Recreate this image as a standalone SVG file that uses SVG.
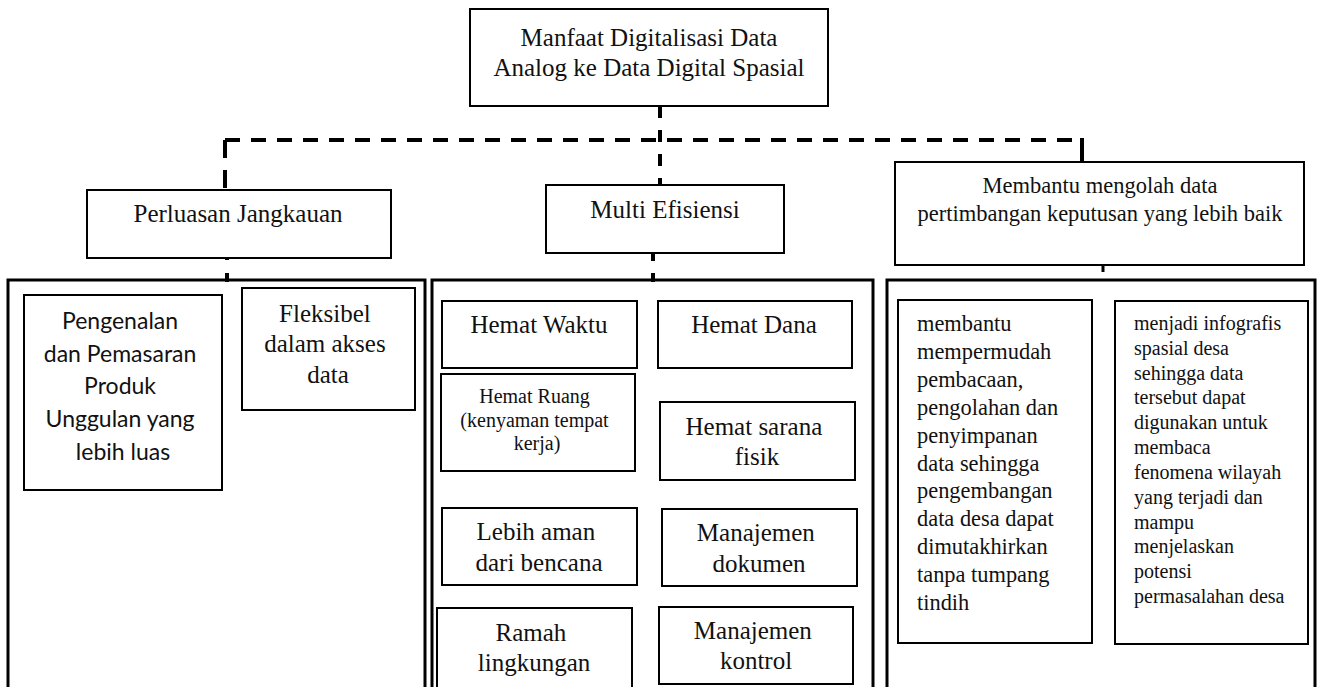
<svg xmlns="http://www.w3.org/2000/svg" width="1317" height="687" viewBox="0 0 1317 687">
<style>
  .bg { fill: #ffffff; }
  .box { fill: #ffffff; stroke: #000000; stroke-width: 2; }
  .panel { fill: #ffffff; stroke: #000000; stroke-width: 3; }
  .dash { fill: none; stroke: #000000; stroke-width: 4; stroke-dasharray: 15 11; }
  .solid { fill: none; stroke: #000000; stroke-width: 3; }
  .serif { font-family: "Liberation Serif", "Times New Roman", serif; fill: #111111; }
  .sans { font-family: Lato, "Open Sans", sans-serif; fill: #111111; }
  .c { text-anchor: middle; }
</style>
<rect class="bg" x="0" y="0" width="1317" height="687"/>

<g id="panels">
  <rect id="panel-left" class="panel" x="8" y="280" width="417" height="430"/>
  <rect id="panel-mid" class="panel" x="432" y="280" width="441" height="430"/>
  <rect id="panel-right" class="panel" x="887" y="280" width="428" height="430"/>
</g>

<g id="connectors">
  <path class="dash" d="M660,106 V184" style="stroke-dasharray: 12 12"/>
  <path class="dash" d="M225,140 H1082"/>
  <path class="dash" d="M225,140 V189" style="stroke-dasharray: 18 12"/>
  <path class="solid" d="M1082,138 V162" style="stroke-width:4"/>
  <path class="dash" d="M227,247 V282" style="stroke-dasharray: 13 13"/>
  <path class="dash" d="M653,248 V282" style="stroke-dasharray: 13 12"/>
  <path class="solid" d="M1103,258 V272"/>
</g>

<g id="root">
  <rect class="box" x="470" y="9" width="358" height="97"/>
  <text class="serif c" x="649" y="46" font-size="25">Manfaat Digitalisasi Data</text>
  <text class="serif c" x="649" y="76" font-size="25">Analog ke Data Digital Spasial</text>
</g>

<g id="perluasan">
  <rect class="box" x="87" y="190" width="304" height="68"/>
  <text class="serif c" x="238" y="222" font-size="25">Perluasan Jangkauan</text>
</g>

<g id="multi">
  <rect class="box" x="546" y="185" width="238" height="68"/>
  <text class="serif c" x="665" y="218" font-size="25">Multi Efisiensi</text>
</g>

<g id="membantu-top">
  <rect class="box" x="895" y="162" width="409" height="103"/>
  <text class="serif c" x="1100" y="193" font-size="22.5">Membantu mengolah data</text>
  <text class="serif c" x="1100" y="221" font-size="22.5">pertimbangan keputusan yang lebih baik</text>
</g>

<g id="pengenalan">
  <rect class="box" x="24" y="295" width="198" height="195"/>
  <text class="sans c" font-size="23" x="123">
    <tspan x="123" y="329">Pengenalan</tspan>
    <tspan x="123" y="362">dan Pemasaran</tspan>
    <tspan x="123" y="394">Produk</tspan>
    <tspan x="123" y="427">Unggulan yang</tspan>
    <tspan x="123" y="460">lebih luas</tspan>
  </text>
</g>

<g id="fleksibel">
  <rect class="box" x="242" y="288" width="173" height="122"/>
  <text class="serif c" font-size="25">
    <tspan x="328" y="322">Fleksibel</tspan>
    <tspan x="328" y="352">dalam akses</tspan>
    <tspan x="328" y="383">data</tspan>
  </text>
</g>

<g id="hemat-waktu">
  <rect class="box" x="442" y="301" width="195" height="67"/>
  <text class="serif c" x="539" y="333" font-size="25">Hemat Waktu</text>
</g>

<g id="hemat-dana">
  <rect class="box" x="658" y="301" width="194" height="67"/>
  <text class="serif c" x="754" y="333" font-size="25">Hemat Dana</text>
</g>

<g id="hemat-ruang">
  <rect class="box" x="441" y="374" width="194" height="97"/>
  <text class="serif c" font-size="20">
    <tspan x="537" y="403">Hemat Ruang</tspan>
    <tspan x="537" y="427">(kenyaman tempat</tspan>
    <tspan x="537" y="450">kerja)</tspan>
  </text>
</g>

<g id="hemat-sarana">
  <rect class="box" x="660" y="402" width="195" height="78"/>
  <text class="serif c" font-size="25">
    <tspan x="757" y="435">Hemat sarana</tspan>
    <tspan x="757" y="465">fisik</tspan>
  </text>
</g>

<g id="lebih-aman">
  <rect class="box" x="442" y="508" width="195" height="77"/>
  <text class="serif c" font-size="25">
    <tspan x="539" y="540">Lebih aman</tspan>
    <tspan x="539" y="571">dari bencana</tspan>
  </text>
</g>

<g id="manajemen-dokumen">
  <rect class="box" x="662" y="509" width="195" height="77"/>
  <text class="serif c" font-size="25">
    <tspan x="759" y="541">Manajemen</tspan>
    <tspan x="759" y="572">dokumen</tspan>
  </text>
</g>

<g id="ramah">
  <rect class="box" x="437" y="608" width="195" height="100"/>
  <text class="serif c" font-size="25">
    <tspan x="534" y="641">Ramah</tspan>
    <tspan x="534" y="671">lingkungan</tspan>
  </text>
</g>

<g id="manajemen-kontrol">
  <rect class="box" x="659" y="607" width="194" height="77"/>
  <text class="serif c" font-size="25">
    <tspan x="756" y="639">Manajemen</tspan>
    <tspan x="756" y="669">kontrol</tspan>
  </text>
</g>

<g id="membantu-detail">
  <rect class="box" x="898" y="300" width="194" height="343"/>
  <text class="serif" font-size="22.4">
    <tspan x="917" y="331">membantu</tspan>
    <tspan x="917" y="359">mempermudah</tspan>
    <tspan x="917" y="387">pembacaan,</tspan>
    <tspan x="917" y="415">pengolahan dan</tspan>
    <tspan x="917" y="443">penyimpanan</tspan>
    <tspan x="917" y="471">data sehingga</tspan>
    <tspan x="917" y="498">pengembangan</tspan>
    <tspan x="917" y="526">data desa dapat</tspan>
    <tspan x="917" y="554">dimutakhirkan</tspan>
    <tspan x="917" y="582">tanpa tumpang</tspan>
    <tspan x="917" y="610">tindih</tspan>
  </text>
</g>

<g id="infografis">
  <rect class="box" x="1115" y="301" width="193" height="343"/>
  <text class="serif" font-size="20">
    <tspan x="1134" y="330">menjadi infografis</tspan>
    <tspan x="1134" y="355">spasial desa</tspan>
    <tspan x="1134" y="380">sehingga data</tspan>
    <tspan x="1134" y="404">tersebut dapat</tspan>
    <tspan x="1134" y="429">digunakan untuk</tspan>
    <tspan x="1134" y="454">membaca</tspan>
    <tspan x="1134" y="479">fenomena wilayah</tspan>
    <tspan x="1134" y="504">yang terjadi dan</tspan>
    <tspan x="1134" y="529">mampu</tspan>
    <tspan x="1134" y="553">menjelaskan</tspan>
    <tspan x="1134" y="578">potensi</tspan>
    <tspan x="1134" y="603">permasalahan desa</tspan>
  </text>
</g>
</svg>
